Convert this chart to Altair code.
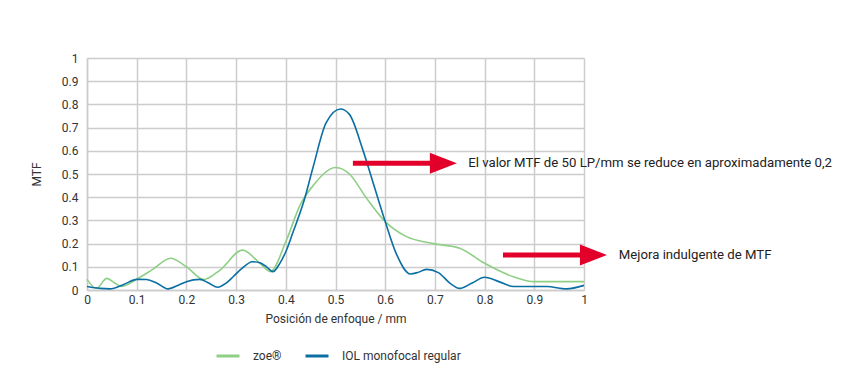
import altair as alt
import pandas as pd

# Series data
iol_x = [0, 0.026, 0.046, 0.075, 0.1, 0.12, 0.14, 0.163, 0.185, 0.2, 0.227, 0.245, 0.263,
         0.28, 0.294, 0.31, 0.333, 0.348, 0.361, 0.374, 0.388, 0.4, 0.415, 0.436,
         0.455, 0.481, 0.51, 0.528, 0.555, 0.578, 0.6, 0.622, 0.651, 0.665, 0.683, 0.707,
         0.73, 0.75, 0.775, 0.8, 0.83, 0.858, 0.9, 0.925, 0.965, 1.0]
iol_y = [0.015, 0.007, 0.005, 0.025, 0.046, 0.045, 0.03, 0.005, 0.022, 0.036, 0.046, 0.03, 0.012,
         0.03, 0.057, 0.09, 0.122, 0.117, 0.1, 0.079, 0.115, 0.165, 0.252, 0.38,
         0.53, 0.72, 0.78, 0.757, 0.604, 0.446, 0.295, 0.158, 0.069, 0.075, 0.089, 0.075,
         0.03, 0.007, 0.03, 0.055, 0.035, 0.015, 0.015, 0.015, 0.005, 0.02]

zoe_x = [0, 0.019, 0.04, 0.056, 0.069, 0.1, 0.133, 0.168, 0.2, 0.235, 0.267, 0.313, 0.348,
         0.369, 0.4, 0.429, 0.455, 0.501, 0.528, 0.561, 0.6, 0.643, 0.697, 0.75, 0.8,
         0.858, 0.9, 1.0]
zoe_y = [0.046, 0.007, 0.05, 0.03, 0.015, 0.046, 0.09, 0.137, 0.1, 0.045, 0.085, 0.172, 0.115,
         0.079, 0.208, 0.367, 0.45, 0.528, 0.5, 0.4, 0.295, 0.23, 0.2, 0.18, 0.115,
         0.057, 0.036, 0.036]

series_names = ["zoe®", "IOL monofocal regular"]
series_colors = ["#8ecf85", "#0b6fa4"]

# Annotations (data units)
ann_text = ["El valor MTF de 50 LP/mm se reduce en aproximadamente 0,2", "Mejora indulgente de MTF"]
ann_y = [0.546, 0.151]
ann_shaft_start = [0.535, 0.837]
ann_shaft_end = [0.695, 0.997]
ann_head_x = [0.717, 1.019]
ann_text_x = [0.767, 1.070]

ticks = [0, 0.1, 0.2, 0.3, 0.4, 0.5, 0.6, 0.7, 0.8, 0.9, 1.0]

lines_df = pd.concat([
    pd.DataFrame({"x": zoe_x, "y": zoe_y, "serie": series_names[0], "o": 0}),
    pd.DataFrame({"x": iol_x, "y": iol_y, "serie": series_names[1], "o": 1}),
])
ann_df = pd.DataFrame({"text": ann_text, "y": ann_y, "x0": ann_shaft_start,
                       "x1": ann_shaft_end, "hx": ann_head_x, "tx": ann_text_x})

FONT = "Roboto"
xs = alt.Scale(domain=[0, 1], nice=False)
ys = alt.Scale(domain=[0, 1], nice=False)
x_axis = alt.Axis(values=ticks, format="~g", grid=True, ticks=False, tickCount=11,
                  labelOverlap=False, labelFlush=False, labelPadding=4, titlePadding=8)
y_axis = alt.Axis(values=ticks, format="~g", grid=True, ticks=False, tickCount=11,
                  labelOverlap=False, labelFlush=False, labelPadding=9, titlePadding=18)
XT = "Posición de enfoque / mm"
YT = "MTF"

lines = alt.Chart(lines_df).mark_line(interpolate="monotone", strokeWidth=1.6).encode(
    x=alt.X("x:Q", scale=xs, title=XT, axis=x_axis),
    y=alt.Y("y:Q", scale=ys, title=YT, axis=y_axis),
    color=alt.Color("serie:N", scale=alt.Scale(domain=series_names, range=series_colors),
                    legend=alt.Legend(title=None, orient="none", legendX=128, legendY=285,
                                      direction="horizontal", symbolType="stroke",
                                      symbolSize=529, symbolStrokeWidth=3, labelOffset=12,
                                      columnPadding=17, labelFontSize=12, labelFont=FONT,
                                      labelColor="#333333")),
    order="o:Q",
)

shafts = alt.Chart(ann_df).mark_rule(color="#e2002a", strokeWidth=5).encode(
    x=alt.X("x0:Q", scale=xs, title=XT, axis=x_axis), x2="x1:Q",
    y=alt.Y("y:Q", scale=ys, title=YT, axis=y_axis))

heads = alt.Chart(ann_df).mark_point(
    shape="M-1,-0.78L1,0L-1,0.78Z", size=729, filled=True, color="#e2002a", opacity=1,
    strokeWidth=0).encode(
    x=alt.X("hx:Q", scale=xs, title=XT, axis=x_axis),
    y=alt.Y("y:Q", scale=ys, title=YT, axis=y_axis))

texts = alt.Chart(ann_df).mark_text(align="left", baseline="middle", fontSize=13.2,
                                    font=FONT, color="#222222").encode(
    x=alt.X("tx:Q", scale=xs, title=XT, axis=x_axis),
    y=alt.Y("y:Q", scale=ys, title=YT, axis=y_axis), text="text:N")

chart = alt.layer(lines, shafts, heads, texts).properties(
    width=497, height=232,
    autosize=alt.AutoSizeParams(type="none"),
    padding={"left": 79, "top": 50, "right": 258, "bottom": 80},
).configure_view(stroke=None).configure_axis(
    gridColor="#cccccc", gridWidth=1.5, domainColor="#cccccc", domainWidth=1.5,
    labelFont=FONT, labelFontSize=12, labelColor="#333333",
    titleFont=FONT, titleFontSize=12, titleFontWeight="normal", titleColor="#333333",
)

chart.save("out.html", embed_options={"renderer": "svg", "actions": False})
